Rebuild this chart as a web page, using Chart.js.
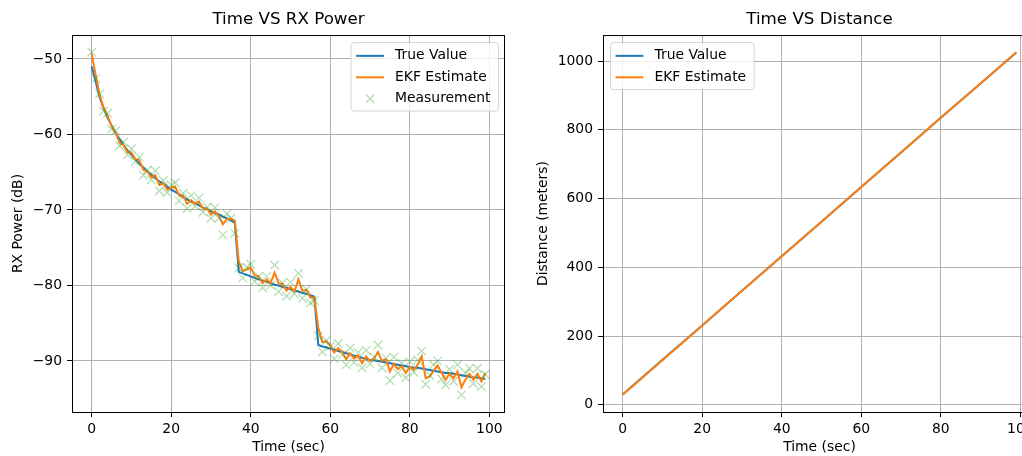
<!DOCTYPE html>
<html>
<head>
<meta charset="utf-8">
<script src="https://cdn.jsdelivr.net/npm/chart.js@4.4.1/dist/chart.umd.min.js"></script>
<style>
  html, body { margin: 0; padding: 0; background: #fff; overflow: hidden; }
  #wrap { position: relative; width: 1022px; height: 456px; overflow: hidden; }
  #c1 { position: absolute; left: 0; top: 0; }
  #c2 { position: absolute; left: 520px; top: 0; }
</style>
</head>
<body>
<div id="wrap">
  <canvas id="c1" width="520" height="456"></canvas>
  <canvas id="c2" width="540" height="456"></canvas>
</div>
<script>
// time axis (sec)
var time = [0,1,2,3,4,5,6,7,8,9,10,11,12,13,14,15,16,17,18,19,
  20,21,22,23,24,25,26,27,28,29,30,31,32,33,34,35,36,37,38,39,
  40,41,42,43,44,45,46,47,48,49,50,51,52,53,54,55,56,57,58,59,
  60,61,62,63,64,65,66,67,68,69,70,71,72,73,74,75,76,77,78,79,
  80,81,82,83,84,85,86,87,88,89,90,91,92,93,94,95,96,97,98,99];

// RX power (dB)
var truePower = [-51.0,-53.0,-55.1,-56.5,-57.8,-58.8,-59.8,-60.6,-61.4,-62.1,
  -62.7,-63.3,-63.9,-64.4,-64.9,-65.3,-65.8,-66.2,-66.5,-66.9,
  -67.3,-67.6,-67.9,-68.3,-68.6,-68.9,-69.1,-69.4,-69.7,-69.9,
  -70.2,-70.4,-70.6,-70.9,-71.1,-71.4,-71.7,-78.2,-78.4,-78.6,
  -78.8,-79.0,-79.2,-79.4,-79.5,-79.7,-79.9,-80.0,-80.2,-80.3,
  -80.5,-80.7,-80.8,-81.0,-81.1,-81.3,-81.5,-87.9,-88.1,-88.2,
  -88.4,-88.5,-88.7,-88.8,-89.0,-89.1,-89.3,-89.4,-89.6,-89.7,
  -89.9,-89.9,-90.0,-90.1,-90.2,-90.3,-90.4,-90.5,-90.6,-90.7,
  -90.8,-90.9,-90.9,-91.0,-91.1,-91.2,-91.3,-91.4,-91.5,-91.6,
  -91.6,-91.7,-91.8,-91.9,-92.0,-92.1,-92.2,-92.2,-92.3,-92.4];

var ekfPower = [-49.3,-52.1,-54.7,-56.5,-57.5,-58.9,-59.7,-61.1,-61.4,-62.4,
  -62.4,-63.3,-63.4,-64.7,-64.9,-65.7,-65.4,-66.7,-66.5,-67.3,
  -67.1,-66.9,-68.1,-68.1,-69.2,-68.7,-69.2,-68.9,-69.8,-69.8,
  -70.6,-70.2,-70.8,-71.9,-71.2,-71.2,-71.4,-76.8,-78.1,-77.9,
  -77.6,-78.7,-78.8,-79.7,-79.2,-79.7,-78.3,-79.7,-79.8,-80.7,
  -80.2,-80.8,-79.2,-80.7,-80.6,-81.6,-81.6,-85.6,-87.5,-87.4,
  -87.9,-88.9,-88.3,-88.8,-89.8,-89.0,-89.7,-89.3,-90.3,-89.4,
  -90.0,-89.7,-88.8,-90.0,-89.8,-91.4,-90.4,-91.1,-90.7,-91.6,
  -90.8,-91.2,-90.5,-89.4,-92.3,-92.1,-91.3,-90.6,-91.6,-92.5,
  -91.7,-92.3,-91.4,-93.5,-92.5,-91.7,-92.5,-91.7,-92.7,-91.6];

var measPower = [-49.1,-52.6,-54.6,-56.9,-57.2,-59.3,-59.5,-61.5,-61.0,-62.7,
  -61.9,-63.6,-63.0,-65.4,-64.7,-66.0,-64.8,-67.5,-66.1,-67.7,
  -66.7,-66.4,-68.8,-67.8,-69.8,-68.1,-69.5,-68.4,-70.3,-69.6,
  -71.1,-69.7,-71.1,-73.3,-70.5,-71.1,-73.1,-77.7,-79.0,-77.6,
  -77.2,-79.5,-78.8,-80.3,-78.8,-80.0,-77.3,-80.8,-79.7,-81.4,
  -79.6,-81.1,-78.4,-81.7,-80.5,-82.3,-82.0,-86.7,-88.8,-87.3,
  -88.1,-89.7,-87.7,-89.2,-90.5,-88.3,-90.2,-88.9,-90.9,-88.6,
  -90.4,-89.5,-87.9,-90.9,-89.6,-92.6,-89.5,-91.6,-90.3,-92.2,
  -90.1,-91.5,-89.9,-88.7,-93.1,-91.9,-90.5,-90.0,-92.4,-93.2,
  -91.1,-92.7,-90.5,-94.5,-91.6,-91.0,-93.0,-91.0,-93.4,-91.8];

// distance (meters)
var distTime = [0,10,20,30,40,50,60,70,80,90,99];
var distTrue = [30,131,231,332,432,533,634,734,835,935,1025];
var distEkf  = [29,130,231,332,432,533,634,734,835,935,1026];

// tick labels
var xTicks = [0,20,40,60,80,100];
var powerTicks = [-90,-80,-70,-60,-50];
var distTicks = [0,200,400,600,800,1000];

var BLUE = '#1f77b4', ORANGE = '#ff7f0e', GREEN = 'rgba(44,160,44,0.35)';
var FS = 13.9;

Chart.defaults.font.family = 'DejaVu Sans';
Chart.defaults.font.size = FS;
Chart.defaults.color = '#000';

function pts(xs, ys) {
  return xs.map(function(x, i) { return {x: x, y: ys[i]}; });
}

function fmt(v) {
  return v < 0 ? '\u2212' + Math.abs(v) : String(v);
}

// black box round the plot area, like matplotlib spines
var frame = {
  id: 'frame',
  afterDraw: function(chart) {
    var a = chart.chartArea, ctx = chart.ctx;
    ctx.save();
    ctx.strokeStyle = '#000';
    ctx.lineWidth = 1;
    ctx.strokeRect(a.left + 0.5, a.top + 0.5, a.right - a.left - 1, a.bottom - a.top);
    ctx.restore();
  }
};

// legend drawn inside the plot area
var innerLegend = {
  id: 'innerLegend',
  afterDraw: function(chart, args, opts) {
    var ctx = chart.ctx, a = chart.chartArea;
    var sets = chart.data.datasets;
    var pad = 0.4 * FS, handle = 2 * FS, gap = 0.8 * FS, rowH = 14.5, space = 0.5 * FS;
    ctx.save();
    ctx.font = FS + 'px "DejaVu Sans"';
    var tw = 0;
    sets.forEach(function(d) { tw = Math.max(tw, ctx.measureText(d.label).width); });
    var w = 2 * pad + handle + gap + tw + 2;
    var h = 2 * pad + sets.length * rowH + (sets.length - 1) * space;
    var x0 = opts.corner === 'left' ? a.left + 7 : a.right - 7 - w;
    var y0 = a.top + 7;
    ctx.beginPath();
    ctx.roundRect(x0 + 0.5, y0 + 0.5, w, h, 3);
    ctx.fillStyle = 'rgba(255,255,255,0.8)';
    ctx.fill();
    ctx.strokeStyle = 'rgba(204,204,204,0.8)';
    ctx.lineWidth = 1;
    ctx.stroke();
    sets.forEach(function(d, i) {
      var cy = y0 + pad + rowH / 2 + i * (rowH + space) + 1;
      var hx = x0 + pad;
      if (d.showLine === false) {
        var cx = hx + handle / 2, r = 4.2;
        ctx.strokeStyle = d.borderColor;
        ctx.lineWidth = 1.3;
        ctx.beginPath();
        ctx.moveTo(cx - r, cy - r); ctx.lineTo(cx + r, cy + r);
        ctx.moveTo(cx - r, cy + r); ctx.lineTo(cx + r, cy - r);
        ctx.stroke();
      } else {
        ctx.strokeStyle = d.borderColor;
        ctx.lineWidth = 2;
        ctx.beginPath();
        ctx.moveTo(hx, cy); ctx.lineTo(hx + handle, cy);
        ctx.stroke();
      }
      ctx.fillStyle = '#000';
      ctx.textBaseline = 'middle';
      ctx.fillText(d.label, hx + handle + gap, cy);
    });
    ctx.restore();
  }
};

function axis(min, max, ticks, title, fitW, titlePad, isX) {
  return {
    type: 'linear',
    min: min,
    max: max,
    afterBuildTicks: function(s) { s.ticks = ticks.map(function(v) { return {value: v}; }); },
    afterFit: function(s) { if (isX) { s.height = 44; } else { s.width = fitW; } },
    grid: { color: '#b0b0b0', lineWidth: 1, tickColor: '#000', tickLength: 5, tickWidth: 1 },
    border: { display: false },
    ticks: { padding: isX ? 4 : 5, color: '#000', callback: fmt, autoSkip: false, maxRotation: 0 },
    title: { display: true, text: title, color: '#000', padding: isX ? {top: 0, bottom: 0} : {top: titlePad, bottom: 0} }
  };
}

function titleOpt(text) {
  return {
    display: true, text: text, fullSize: false, color: '#000',
    font: { family: 'DejaVu Sans', size: 16.7, weight: 'normal' },
    padding: { top: 10, bottom: 5 }
  };
}

new Chart(document.getElementById('c1'), {
  type: 'line',
  data: {
    datasets: [
      { label: 'True Value', data: pts(time, truePower), borderColor: BLUE, borderWidth: 2, pointRadius: 0, tension: 0, order: 3 },
      { label: 'EKF Estimate', data: pts(time, ekfPower), borderColor: ORANGE, borderWidth: 2, pointRadius: 0, tension: 0, order: 2 },
      { label: 'Measurement', data: pts(time, measPower), showLine: false, borderColor: GREEN, backgroundColor: GREEN,
        pointStyle: 'crossRot', pointRadius: 6, pointBorderWidth: 1.3, order: 1 }
    ]
  },
  options: {
    responsive: false,
    animation: false,
    layout: { padding: { left: 0, right: 15, top: 0, bottom: 0 } },
    scales: {
      x: axis(-4.95, 103.95, xTicks, 'Time (sec)', 0, 0, true),
      y: axis(-96.77, -46.83, powerTicks, 'RX Power (dB)', 72, 10, false)
    },
    plugins: {
      legend: { display: false },
      tooltip: { enabled: false },
      title: titleOpt('Time VS RX Power'),
      innerLegend: { corner: 'right' }
    }
  },
  plugins: [frame, innerLegend]
});

new Chart(document.getElementById('c2'), {
  type: 'line',
  data: {
    datasets: [
      { label: 'True Value', data: pts(distTime, distTrue), borderColor: BLUE, borderWidth: 2, pointRadius: 0, tension: 0, order: 2 },
      { label: 'EKF Estimate', data: pts(distTime, distEkf), borderColor: ORANGE, borderWidth: 2, pointRadius: 0, tension: 0, order: 1 }
    ]
  },
  options: {
    responsive: false,
    animation: false,
    layout: { padding: { left: 0, right: 24, top: 0, bottom: 0 } },
    scales: {
      x: axis(-4.95, 103.95, xTicks, 'Time (sec)', 0, 0, true),
      y: axis(-20.85, 1075.85, distTicks, 'Distance (meters)', 83, 14.6, false)
    },
    plugins: {
      legend: { display: false },
      tooltip: { enabled: false },
      title: titleOpt('Time VS Distance'),
      innerLegend: { corner: 'left' }
    }
  },
  plugins: [frame, innerLegend]
});
</script>
</body>
</html>
